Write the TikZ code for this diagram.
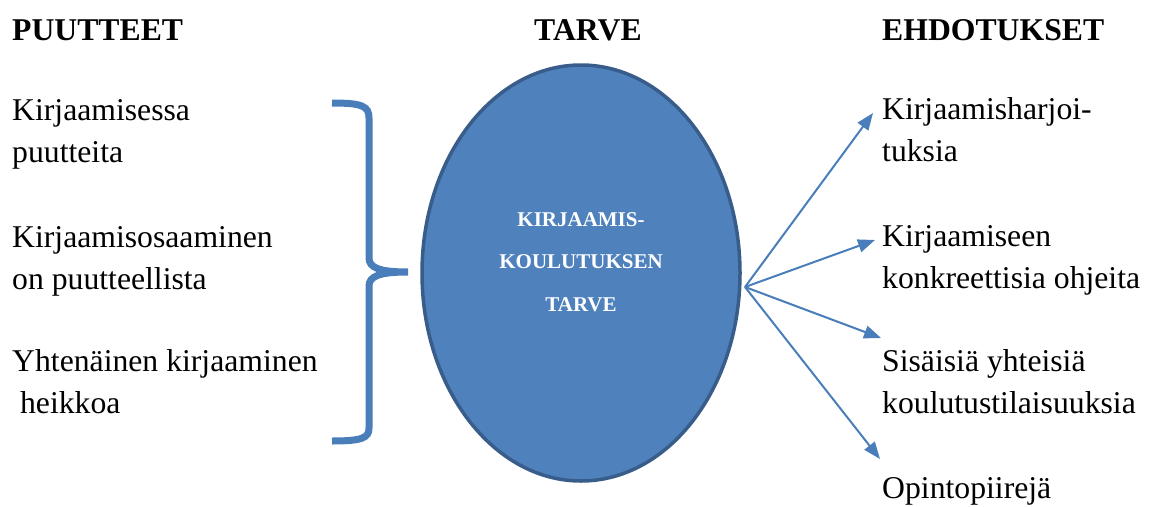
\documentclass[tikz,border=0pt]{standalone}
\usepackage{fontspec}
\setmainfont{Liberation Serif}
\usetikzlibrary{arrows.meta,shapes.geometric}
\definecolor{ellfill}{HTML}{4F81BD}
\definecolor{elldraw}{HTML}{385D8A}
\definecolor{arrowblue}{HTML}{4A7EBB}
\begin{document}
\begin{tikzpicture}[x=1pt,y=-1pt,
  txt/.style={anchor=base west,inner sep=0pt,align=left,font=\fontsize{31.7}{42}\selectfont},
  ttl/.style={anchor=base west,inner sep=0pt,font=\fontsize{31.7}{42}\selectfont\bfseries},
  arr/.style={draw=arrowblue,line width=2pt,-{Triangle[length=17pt,width=13pt]}},
  bracestyle/.style={draw=arrowblue,line width=7pt}]
\useasboundingbox (0,0) rectangle (1155,506);
% titles
\node[ttl] (t1) at (12,40) {PUUTTEET};
\node[ttl] (t2) at (534,40) {TARVE};
\node[ttl] (t3) at (882,40) {EHDOTUKSET};
% left items (base anchor = baseline of last line)
\node[txt] (l1) at (12,162) {Kirjaamisessa\\puutteita};
\node[txt] (l2) at (12,289) {Kirjaamisosaaminen\\on puutteellista};
\node[txt] (l3) at (12,413) {Yhtenäinen kirjaaminen\\\ heikkoa};
% brace
\draw[bracestyle] (332,103) .. controls (362,103) and (369,106) .. (369,118) -- (369,258)
  .. controls (369,268) and (380,272) .. (408,272)
  .. controls (380,272) and (369,276) .. (369,286) -- (369,428)
  .. controls (369,438) and (362,441) .. (332,441);
% ellipse
\node[ellipse,fill=ellfill,draw=elldraw,line width=3.5pt,minimum width=318pt,minimum height=416pt,inner sep=0pt] (need) at (581,273) {};
\node[anchor=center,align=center,text=white,inner sep=0pt,font=\fontsize{21}{42.5}\selectfont\bfseries] (needtxt) at (581,262) {KIRJAAMIS-\\KOULUTUKSEN\\TARVE};
% right items
\node[txt] (r1) at (882,161) {Kirjaamisharjoi-\\tuksia};
\node[txt] (r2) at (882,288) {Kirjaamiseen\\konkreettisia ohjeita};
\node[txt] (r3) at (882,413) {Sisäisiä yhteisiä\\koulutustilaisuuksia};
\node[txt] (r4) at (882,498) {Opintopiirejä};
% arrows
\coordinate (src) at (745,287);
\coordinate (a1) at (873,113);
\coordinate (a2) at (875,240);
\coordinate (a3) at (881,338);
\coordinate (a4) at (880,459);
\draw[arr] (src) -- (a1);
\draw[arr] (src) -- (a2);
\draw[arr] (src) -- (a3);
\draw[arr] (src) -- (a4);
\end{tikzpicture}
\end{document}
